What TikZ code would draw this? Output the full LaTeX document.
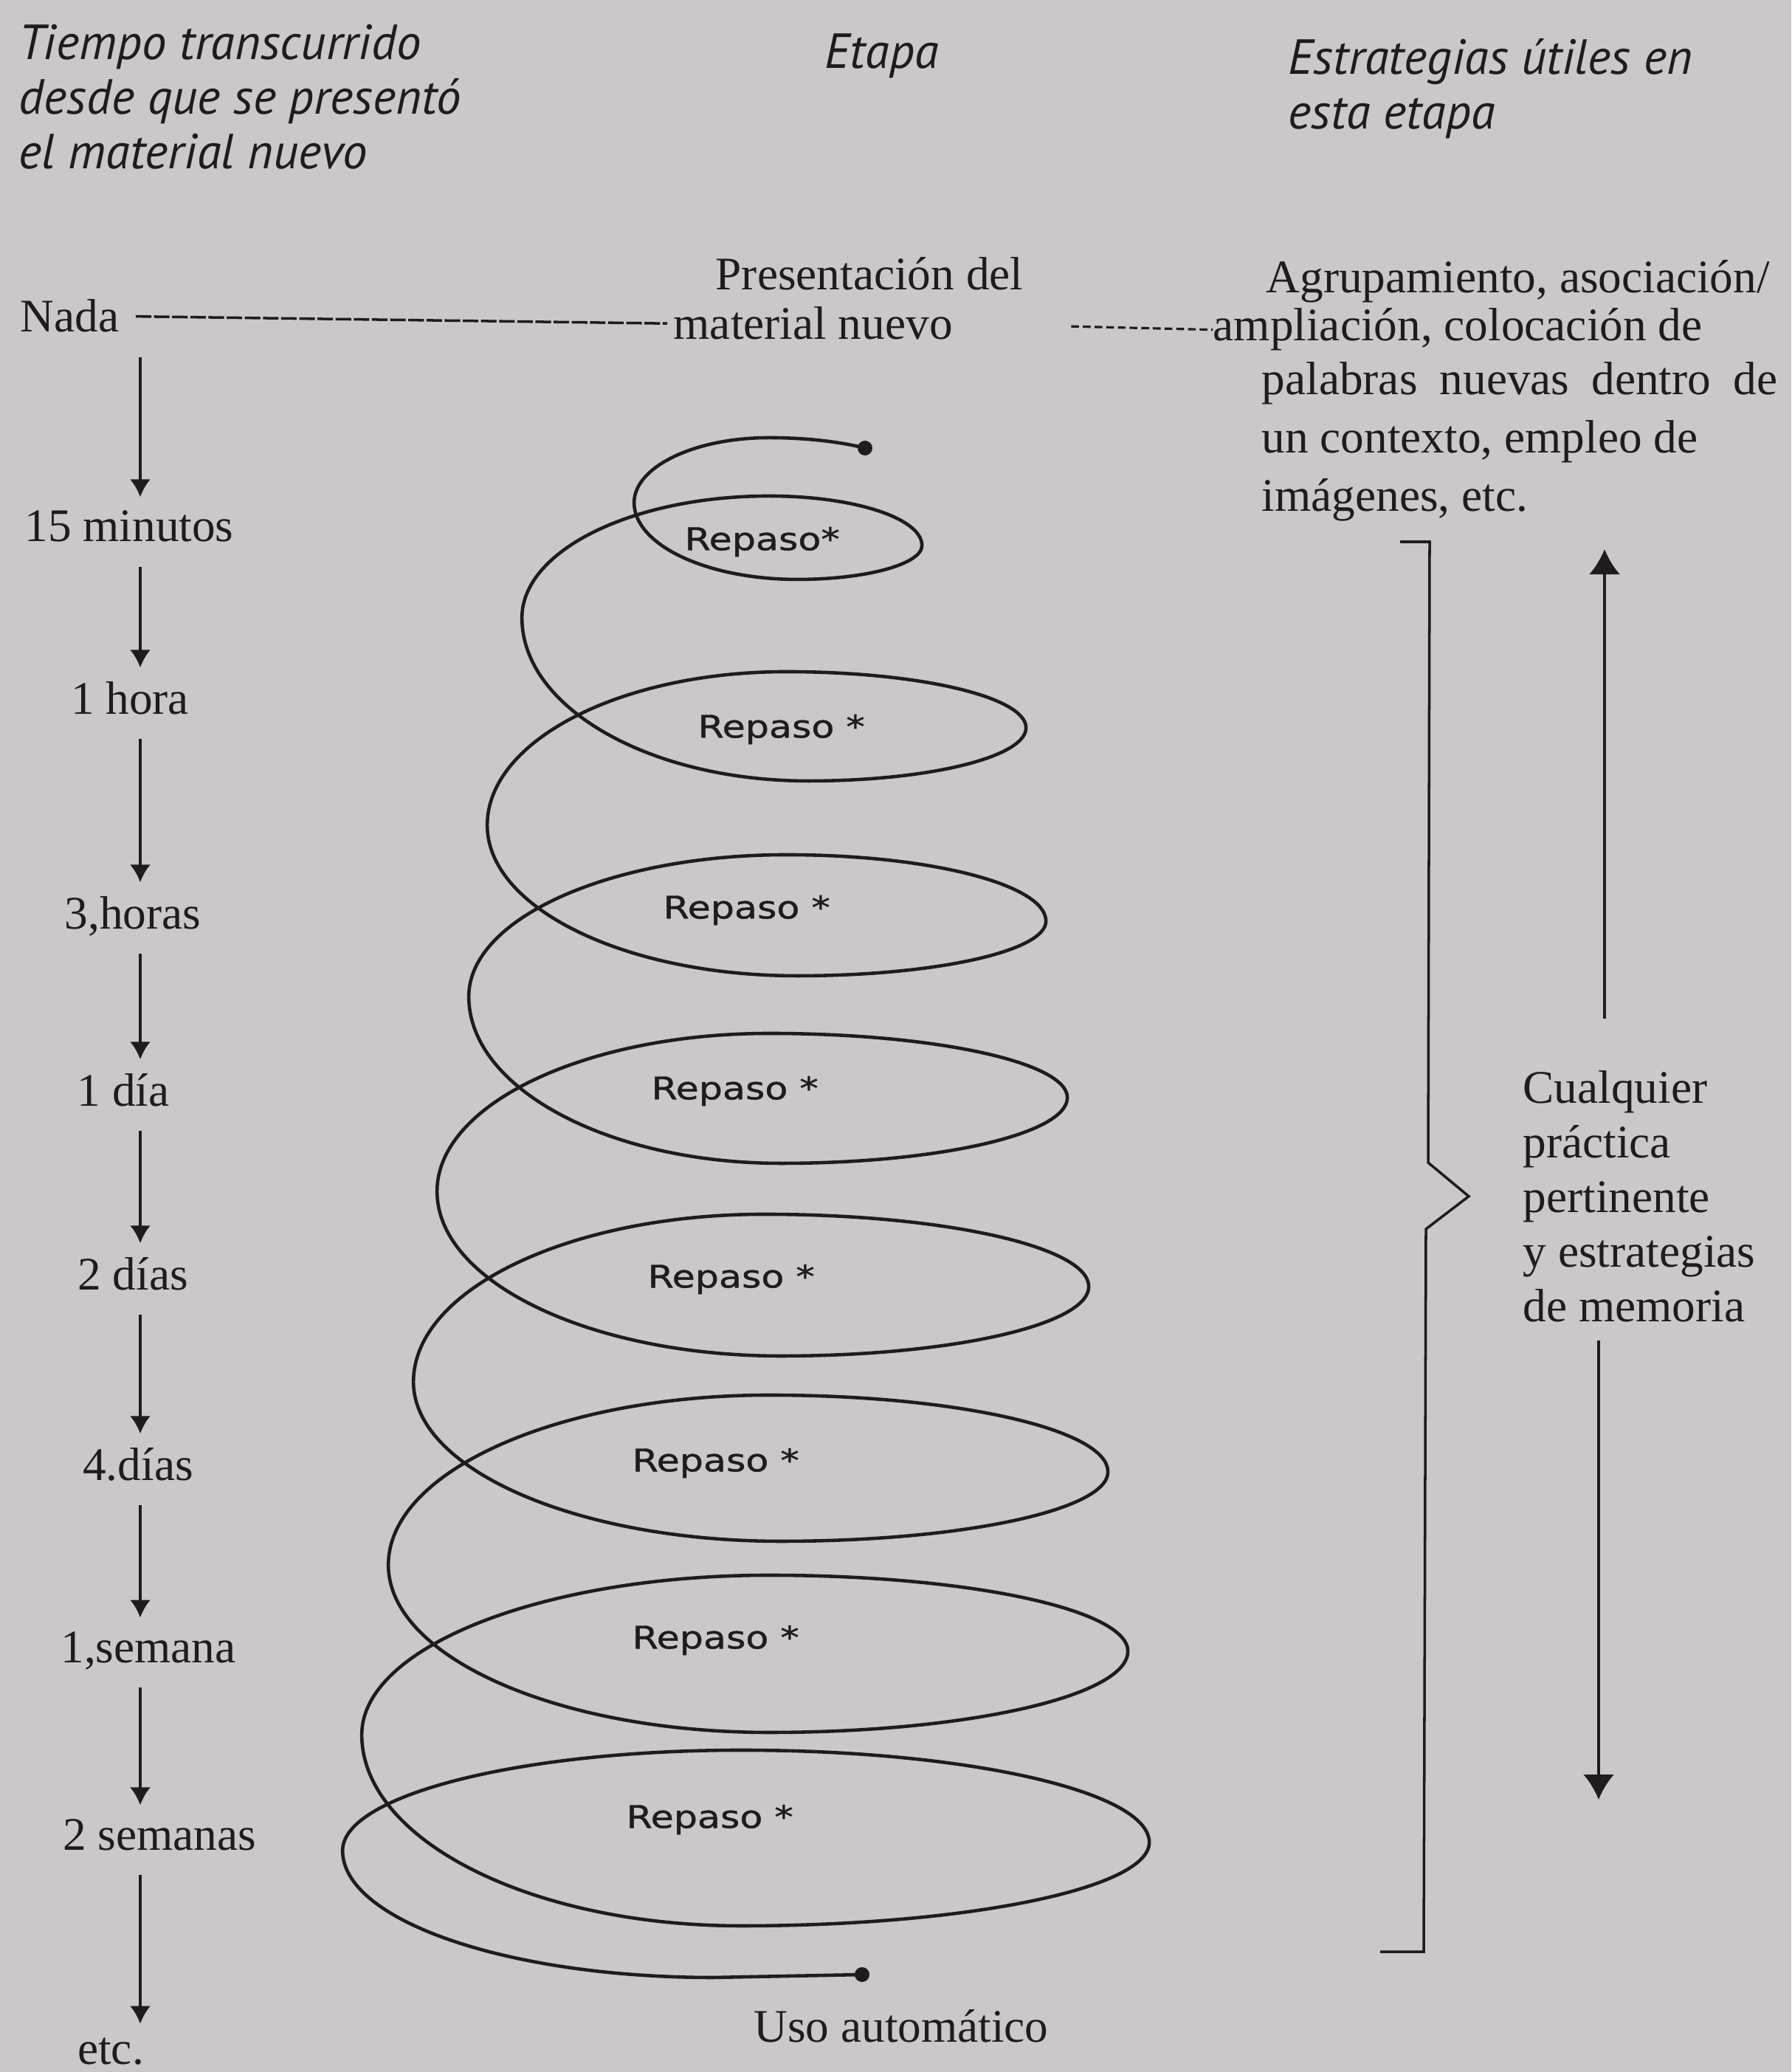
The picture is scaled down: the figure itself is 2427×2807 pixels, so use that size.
\documentclass[tikz,border=0pt]{standalone}
\usepackage{fontspec}
\setmainfont{Liberation Serif}
\newfontfamily\hdrfont{PT Sans}
\newfontfamily\repfont[FakeStretch=1.2, FakeBold=1]{DejaVu Sans}
\usetikzlibrary{arrows.meta,calc}
\definecolor{paper}{RGB}{202,200,200}
\definecolor{ink}{RGB}{30,28,28}
\tikzset{
    txt/.style={font=\fontsize{18}{21}\selectfont, text=ink, inner sep=0pt},
    hdr/.style={font=\hdrfont\itshape\fontsize{19}{21}\selectfont, text=ink, inner sep=0pt, align=left},
    repaso/.style={font=\repfont\fontsize{12}{14}\selectfont, text=ink, inner sep=0pt, anchor=west},
    time label/.style={txt, anchor=base, text depth=0pt},
    arr/.style={-{Latex[length=0.24cm,width=0.28cm]}, ink, line width=1.1pt, shorten <=0.33cm, shorten >=0.18cm},
    big arr/.style={-{Latex[length=0.34cm,width=0.42cm]}, ink, line width=1.1pt},
    spiral/.style={ink, line width=1.3pt},
    lead line/.style={ink, line width=1pt, dash pattern=on 6pt off 1pt},
    lead line2/.style={ink, line width=0.9pt, dash pattern=on 3pt off 1.5pt},
    end dot/.style={circle, fill=ink, inner sep=0pt, minimum size=0.2cm},
}

\begin{document}
\begin{tikzpicture}[x=0.01cm, y=0.01cm]
    \fill[paper] (0,0) rectangle (2427,-2807);
    \useasboundingbox (0,0) rectangle (2427,-2807);

    % column heads
    \node[hdr, anchor=north west] (hdrtime) at (25,-33) {Tiempo transcurrido\\desde que se presentó\\el material nuevo};
    \node[hdr, anchor=base west] (hdretapa) at (1117,-93) {Etapa};
    \node[hdr, anchor=north west] (hdrestr) at (1745,-52) {Estrategias útiles en\\esta etapa};

    % first stage
    \node[txt, anchor=base west] (nada) at (27,-450) {Nada};
    \node[txt, anchor=base] (pres) at (1178,-393) {Presentación del};
    \node[txt, anchor=base west] (matn) at (912,-460) {material nuevo};
    \node[txt, anchor=base west] (agrA) at (1715,-397) {Agrupamiento, asociación/};
    \node[txt, anchor=base west] (agrB) at (1643,-462) {ampliación, colocación de};
    \node[txt, font=\fontsize{18}{22.5}\selectfont, align=left, anchor=north west] (agrC) at (1709,-490)
        {\makebox[6.98cm][s]{palabras nuevas dentro de}\\un contexto, empleo de\\imágenes, etc.};
    \draw[lead line, shorten <=0.22cm, shorten >=0.08cm] (nada.east) -- (matn.west);
    \draw[lead line2, shorten <=1.6cm] (matn.east) -- (agrB.west);

    % elapsed time
    \node[time label] (m15) at (175,-734) {15 minutos};
    \node[time label] (h1) at (176,-967) {1 hora};
    \node[time label] (h3) at (180,-1258) {3,horas};
    \node[time label] (d1) at (167,-1498) {1 día};
    \node[time label] (d2) at (180,-1747) {2 días};
    \node[time label] (d4) at (187,-2005) {4.días};
    \node[time label] (w1) at (201,-2252) {1,semana};
    \node[time label] (w2) at (216,-2506) {2 semanas};
    \node[time label] (etc) at (150,-2796) {etc.};
    \coordinate (axis) at (190,0);
    \foreach \a/\b in {nada/m15, m15/h1, h1/h3, h3/d1, d1/d2, d2/d4, d4/w1, w1/w2, w2/etc}
        \draw[arr] (axis |- \a.south) -- (axis |- \b.north);

    % spiral of reviews
    \node[end dot] (start) at (1172,-607) {};
    \node[end dot] (finish) at (1168,-2675) {};
    \draw[spiral] (start.center)
        arc[start angle=50, end angle=90, x radius=202, y radius=60]
        arc[start angle=90, end angle=180, x radius=183, y radius=88]
        foreach \lbx/\lby/\brx/\bry/\rtx/\rty/\tlx/\tly in {
            221/104/169/46/207/67/335/165,
            388/221/295/72/325/76/405/208,
            420/204/337/74/352/90/430/192,
            423/226/388/89/404/87/450/214,
            466/223/417/94/440/98/475/227,
            498/216/443/94/459/104/516/230,
            516/227/486/110/486/103/552/216,
            514/259/553/113/553/125/540/136} {
            arc[start angle=180, end angle=270, x radius=\lbx, y radius=\lby]
            arc[start angle=270, end angle=360, x radius=\brx, y radius=\bry]
            arc[start angle=0, end angle=90, x radius=\rtx, y radius=\rty]
            arc[start angle=90, end angle=180, x radius=\tlx, y radius=\tly]
        }
        arc[start angle=180, end angle=270, x radius=502, y radius=172]
        -- (finish.center);
    \foreach \x/\y/\t [count=\i] in {927/734/{Repaso*}, 945/988/{Repaso *}, 898/1233/{Repaso *},
            882/1478/{Repaso *}, 877/1733/{Repaso *}, 856/1982/{Repaso *},
            856/2222/{Repaso *}, 848/2465/{Repaso *}}
        \node[repaso] (rep\i) at (\x,-\y) {\t};
    \node[txt, anchor=base] (uso) at (1221,-2766) {Uso automático};

    % any practice
    \node[txt, align=left, anchor=north west] (cualq) at (2063,-1450)
        {Cualquier\\práctica\\pertinente\\y estrategias\\de memoria};
    \draw[ink, line width=1pt] (1897,-734) -- (1937,-734) -- (1935,-1575)
        -- ($(cualq.west)+(-73,0)$) -- (1932,-1665) -- (1929,-2644) -- (1870,-2644);
    \coordinate (uptip) at (2174,-744);
    \coordinate (downtip) at (2166,-2438);
    \draw[big arr, shorten <=0.7cm] (uptip |- cualq.north) -- (uptip);
    \draw[big arr, shorten <=0.25cm] (downtip |- cualq.south) -- (downtip);
\end{tikzpicture}
\end{document}
